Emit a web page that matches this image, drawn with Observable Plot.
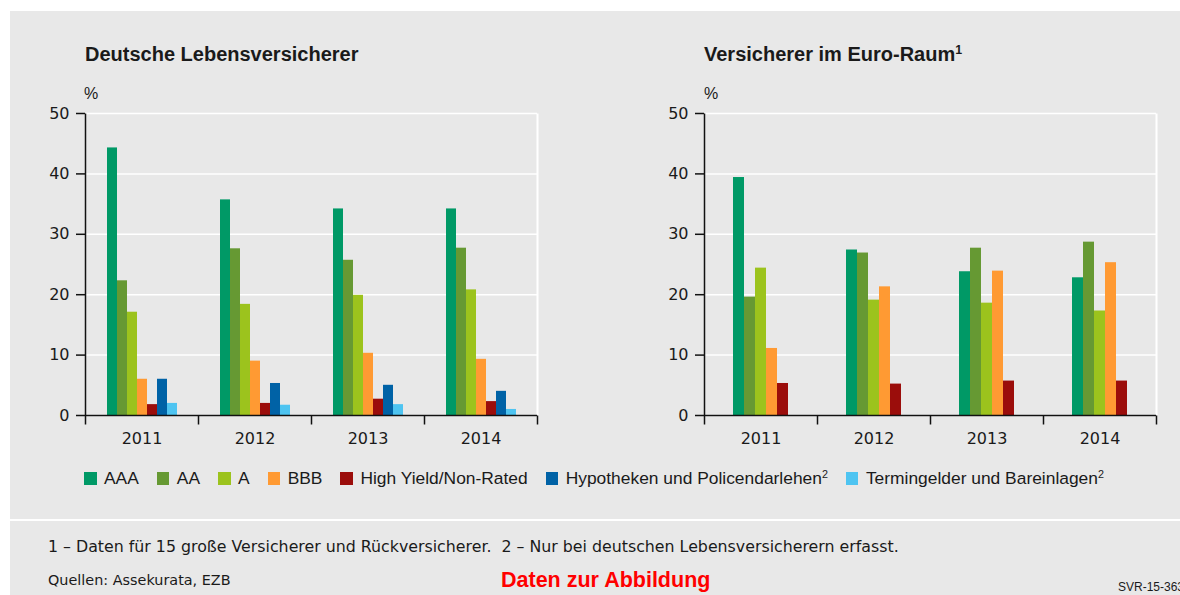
<!DOCTYPE html>
<html lang="de">
<head>
<meta charset="utf-8">
<script src="https://cdn.jsdelivr.net/npm/d3@7"></script>
<script src="https://cdn.jsdelivr.net/npm/@observablehq/plot@0.6"></script>
<style>
  html, body { margin: 0; padding: 0; width: 1180px; height: 595px; overflow: hidden; background: #fff;
    font-family: "Liberation Sans", Arial, sans-serif; color: #1a1a1a; }
  .panel { position: absolute; left: 10px; width: 1170px; background: #e8e8e8; }
  #panel-top { top: 11px; height: 508px; }
  #panel-bottom { top: 521px; height: 74px; }
  .abs { position: absolute; white-space: nowrap; line-height: 1; }
  .title { font-weight: bold; font-size: 20px; }
  .unit { font-size: 16px; }
  .note { font-family: "DejaVu Sans", sans-serif; }
  sup { font-size: 0.62em; line-height: 0; vertical-align: 0.55em; }
  #legend { position: absolute; left: 84px; top: 468px; display: flex; align-items: center; gap: 18px; font-size: 17.4px; }
  #legend .item { display: flex; align-items: center; }
  #legend .sw { width: 12.5px; height: 12.5px; margin-right: 7.5px; }
  .chart { position: absolute; }
</style>
</head>
<body>
<div class="panel" id="panel-top"></div>
<div class="panel" id="panel-bottom"></div>

<div class="abs title" style="left:85px; top:44px;">Deutsche Lebensversicherer</div>
<div class="abs title" style="left:704px; top:44px;">Versicherer im Euro-Raum<sup>1</sup></div>
<div class="abs unit" style="left:84px; top:86px;">%</div>
<div class="abs unit" style="left:704px; top:86px;">%</div>

<div class="chart" id="chart-de" style="left:30px; top:95px;"></div>
<div class="chart" id="chart-eu" style="left:650px; top:95px;"></div>

<div id="legend"></div>

<div class="abs note" style="left:48px; top:539px; font-size:15.8px;">1 – Daten für 15 große Versicherer und Rückversicherer.&nbsp; 2 – Nur bei deutschen Lebensversicherern erfasst.</div>
<div class="abs note" style="left:48px; top:573px; font-size:14.4px;">Quellen: Assekurata, EZB</div>
<div class="abs" style="left:501px; top:570px; font-size:21.5px; font-weight:bold; color:#ff0000;">Daten zur Abbildung</div>
<div class="abs" style="left:1118px; top:581px; font-size:12px;">SVR-15-363</div>

<script>
// Years on the category axis
const years = ["2011", "2012", "2013", "2014"];

// Asset classes and their colours
const series = ["AAA", "AA", "A", "BBB", "High Yield/Non-Rated", "Hypotheken und Policendarlehen", "Termingelder und Bareinlagen"];
const seriesColors = ["#009966", "#669933", "#9cc31d", "#ff9a33", "#9b0d0b", "#0062a6", "#4ec4f1"];
const seriesNote = ["", "", "", "", "", "2", "2"];

// Deutsche Lebensversicherer, share of investments in %
const deAAA = [44.3, 35.7, 34.2, 34.2];
const deAA = [22.3, 27.6, 25.7, 27.7];
const deA = [17.1, 18.4, 19.9, 20.8];
const deBBB = [6.0, 9.0, 10.3, 9.3];
const deHighYield = [1.8, 2.0, 2.7, 2.3];
const deHypotheken = [6.0, 5.3, 5.0, 4.0];
const deTermingelder = [2.0, 1.7, 1.8, 1.0];

// Versicherer im Euro-Raum, share of investments in %
const euAAA = [39.4, 27.4, 23.8, 22.8];
const euAA = [19.6, 26.9, 27.7, 28.7];
const euA = [24.4, 19.1, 18.6, 17.3];
const euBBB = [11.1, 21.3, 23.9, 25.3];
const euHighYield = [5.3, 5.2, 5.7, 5.7];

// Value axis
const yDomain = [0, 50];
const yTicks = [0, 10, 20, 30, 40, 50];

function toRows(columns) {
  const rows = [];
  columns.forEach(([name, values]) => {
    values.forEach((v, i) => rows.push({year: years[i], series: name, value: v}));
  });
  return rows;
}

const deRows = toRows([
  [series[0], deAAA], [series[1], deAA], [series[2], deA], [series[3], deBBB],
  [series[4], deHighYield], [series[5], deHypotheken], [series[6], deTermingelder]
]);
const euRows = toRows([
  [series[0], euAAA], [series[1], euAA], [series[2], euA], [series[3], euBBB],
  [series[4], euHighYield]
]);

// A vertical stroke used as a marker symbol (for axis ticks between year groups and frame edges)
const vstroke = len => ({draw(ctx) { ctx.moveTo(0, 0); ctx.lineTo(0, len); }});

function groupedBars(rows, domain, {width, marginLeft, marginRight, paddingOuter}) {
  const height = 360, marginTop = 18, marginBottom = 40;
  const innerHeight = height - marginTop - marginBottom;
  const first = [{year: years[0]}];
  const last = [{year: years[years.length - 1]}];
  return Plot.plot({
    width, height, marginTop, marginBottom, marginLeft, marginRight,
    style: {fontFamily: "'DejaVu Sans', sans-serif", fontSize: "16px", color: "#1a1a1a", background: "transparent", overflow: "visible"},
    fx: {domain: years, padding: 0, axis: null, label: null},
    x: {domain, paddingInner: 0, paddingOuter, axis: null},
    y: {domain: yDomain, axis: null},
    color: {domain: series, range: seriesColors},
    marks: [
      Plot.gridY({ticks: yTicks, stroke: "white", strokeOpacity: 1, strokeWidth: 1.5}),
      Plot.dot(last, {fx: "year", frameAnchor: "bottom-right", symbol: vstroke(-innerHeight), stroke: "white", fill: "none", strokeWidth: 2}),
      Plot.barY(rows, {fx: "year", x: "series", y: "value", fill: "series"}),
      Plot.ruleY([0], {stroke: "#111", strokeWidth: 1.5}),
      Plot.dot(first, {fx: "year", frameAnchor: "bottom-left", symbol: vstroke(-innerHeight), stroke: "#111", fill: "none", strokeWidth: 1.5}),
      Plot.axisY({ticks: yTicks, tickSize: 9, tickPadding: 7, label: null, stroke: "#111", strokeWidth: 1.5}),
      Plot.dot(years.map(year => ({year})), {fx: "year", frameAnchor: "bottom-left", symbol: vstroke(9), stroke: "#111", fill: "none", strokeWidth: 1.5}),
      Plot.dot(last, {fx: "year", frameAnchor: "bottom-right", symbol: vstroke(9), stroke: "#111", fill: "none", strokeWidth: 1.5}),
      Plot.axisFx({anchor: "bottom", tickSize: 0, tickPadding: 17, label: null})
    ]
  });
}

document.getElementById("chart-de").append(
  groupedBars(deRows, series, {width: 540, marginLeft: 55, marginRight: 33, paddingOuter: 1.68})
);
document.getElementById("chart-eu").append(
  groupedBars(euRows, series.slice(0, 5), {width: 530, marginLeft: 54, marginRight: 24, paddingOuter: 2.45})
);

// Legend
const legend = document.getElementById("legend");
series.forEach((name, i) => {
  const item = document.createElement("div");
  item.className = "item";
  const sw = document.createElement("span");
  sw.className = "sw";
  sw.style.background = seriesColors[i];
  const label = document.createElement("span");
  label.textContent = name;
  if (seriesNote[i]) {
    const s = document.createElement("sup");
    s.textContent = seriesNote[i];
    label.append(s);
  }
  item.append(sw, label);
  legend.append(item);
});
</script>
</body>
</html>
